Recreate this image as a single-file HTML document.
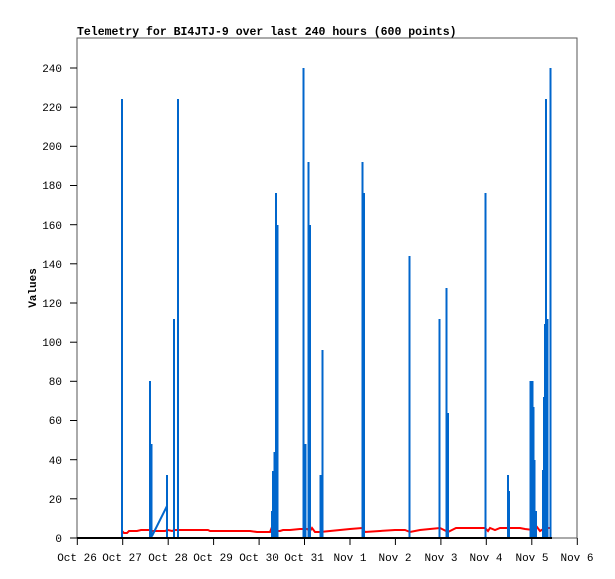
<!DOCTYPE html>
<html><head><style>body{margin:0;background:#fff}svg{display:block}</style></head><body>
<svg width="615" height="579" xmlns="http://www.w3.org/2000/svg" font-family="Liberation Mono, monospace" font-size="11">
<rect width="615" height="579" fill="#fff"/>
<text x="77" y="35" font-weight="bold" font-size="11.5">Telemetry for BI4JTJ-9 over last 240 hours (600 points)</text>
<rect x="77" y="38" width="500" height="500" fill="none" stroke="#555" stroke-width="1"/>
<g stroke="#000" stroke-width="1">
<line x1="70" y1="538" x2="77" y2="538"/><line x1="70" y1="498.8" x2="77" y2="498.8"/><line x1="70" y1="459.7" x2="77" y2="459.7"/><line x1="70" y1="420.5" x2="77" y2="420.5"/><line x1="70" y1="381.3" x2="77" y2="381.3"/><line x1="70" y1="342.2" x2="77" y2="342.2"/><line x1="70" y1="303" x2="77" y2="303"/><line x1="70" y1="263.8" x2="77" y2="263.8"/><line x1="70" y1="224.7" x2="77" y2="224.7"/><line x1="70" y1="185.5" x2="77" y2="185.5"/><line x1="70" y1="146.3" x2="77" y2="146.3"/><line x1="70" y1="107.2" x2="77" y2="107.2"/><line x1="70" y1="68" x2="77" y2="68"/>
</g>
<g text-anchor="end">
<text x="62" y="542">0</text><text x="62" y="503">20</text><text x="62" y="464">40</text><text x="62" y="424">60</text><text x="62" y="385">80</text><text x="62" y="346">100</text><text x="62" y="307">120</text><text x="62" y="268">140</text><text x="62" y="229">160</text><text x="62" y="189">180</text><text x="62" y="150">200</text><text x="62" y="111">220</text><text x="62" y="72">240</text>
</g>
<text transform="translate(36,288) rotate(-90)" text-anchor="middle" font-weight="bold">Values</text>
<g stroke="#000" stroke-width="1">
<line x1="77.3" y1="538" x2="77.3" y2="545"/><line x1="122.7" y1="538" x2="122.7" y2="545"/><line x1="168.2" y1="538" x2="168.2" y2="545"/><line x1="213.6" y1="538" x2="213.6" y2="545"/><line x1="259.1" y1="538" x2="259.1" y2="545"/><line x1="304.5" y1="538" x2="304.5" y2="545"/><line x1="350" y1="538" x2="350" y2="545"/><line x1="395.4" y1="538" x2="395.4" y2="545"/><line x1="440.9" y1="538" x2="440.9" y2="545"/><line x1="486.3" y1="538" x2="486.3" y2="545"/><line x1="531.8" y1="538" x2="531.8" y2="545"/><line x1="577.3" y1="538" x2="577.3" y2="545"/>
</g>
<g text-anchor="middle">
<text x="77" y="561">Oct 26</text><text x="122" y="561">Oct 27</text><text x="168" y="561">Oct 28</text><text x="213" y="561">Oct 29</text><text x="259" y="561">Oct 30</text><text x="304" y="561">Oct 31</text><text x="350" y="561">Nov 1</text><text x="395" y="561">Nov 2</text><text x="441" y="561">Nov 3</text><text x="486" y="561">Nov 4</text><text x="532" y="561">Nov 5</text><text x="577" y="561">Nov 6</text>
</g>
<polyline fill="none" stroke="#f00" stroke-width="2" points="122,531 124,533 127,533 129,531 137,531 141,530 150,530 152,531 165,531 168,530 172,531 175,530 200,530 208,530 210,531 250,531 257,532 270,532 272,527 275,531 280,531 283,530 290,530 300,529 307,529 310,531 312,528 315,532 320,532 330,531 340,530 350,529 362,528 365,532 380,531 395,530 405,530 410,532 420,530 430,529 440,528 444,530 448,532 452,530 456,528 485,528 488,531 490,528 495,530 500,528 510,528 520,528 525,529 533,530 537,527 540,531 545,528 550,528"/>
<g stroke="#0066cc" stroke-width="2">
<line x1="122" y1="538" x2="122" y2="99"/>
<line x1="150" y1="538" x2="150" y2="381"/><line x1="151.5" y1="538" x2="151.5" y2="444"/>
<line x1="167" y1="538" x2="167" y2="475"/><line x1="174" y1="538" x2="174" y2="319"/><line x1="178" y1="538" x2="178" y2="99"/>
<line x1="272" y1="538" x2="272" y2="511"/><line x1="273" y1="538" x2="273" y2="471"/><line x1="274.5" y1="538" x2="274.5" y2="452"/><line x1="276" y1="538" x2="276" y2="193"/><line x1="277.5" y1="538" x2="277.5" y2="225"/>
<line x1="303.5" y1="538" x2="303.5" y2="68"/><line x1="305.5" y1="538" x2="305.5" y2="444"/><line x1="308.5" y1="538" x2="308.5" y2="162"/><line x1="310" y1="538" x2="310" y2="225"/>
<line x1="320.5" y1="538" x2="320.5" y2="475"/><line x1="322.5" y1="538" x2="322.5" y2="350"/>
<line x1="362.5" y1="538" x2="362.5" y2="162"/><line x1="364" y1="538" x2="364" y2="193"/>
<line x1="409.5" y1="538" x2="409.5" y2="256"/><line x1="439.5" y1="538" x2="439.5" y2="319"/>
<line x1="446.5" y1="538" x2="446.5" y2="288"/><line x1="448" y1="538" x2="448" y2="413"/>
<line x1="485.5" y1="538" x2="485.5" y2="193"/>
<line x1="508" y1="538" x2="508" y2="475"/><line x1="509" y1="538" x2="509" y2="491"/>
<line x1="530.5" y1="538" x2="530.5" y2="381"/><line x1="532.5" y1="538" x2="532.5" y2="381"/><line x1="533.5" y1="538" x2="533.5" y2="407"/><line x1="534.5" y1="538" x2="534.5" y2="460"/><line x1="536" y1="538" x2="536" y2="511"/>
<line x1="543" y1="538" x2="543" y2="470"/><line x1="544" y1="538" x2="544" y2="397"/><line x1="545" y1="538" x2="545" y2="324"/><line x1="546" y1="538" x2="546" y2="99"/><line x1="547.5" y1="538" x2="547.5" y2="319"/>
<line x1="550.5" y1="538" x2="550.5" y2="68"/>
</g>
<polyline fill="none" stroke="#0066cc" stroke-width="2" points="152,536 167,506"/>
<line x1="77" y1="538" x2="552" y2="538" stroke="#000" stroke-width="2"/>
</svg>
</body></html>
